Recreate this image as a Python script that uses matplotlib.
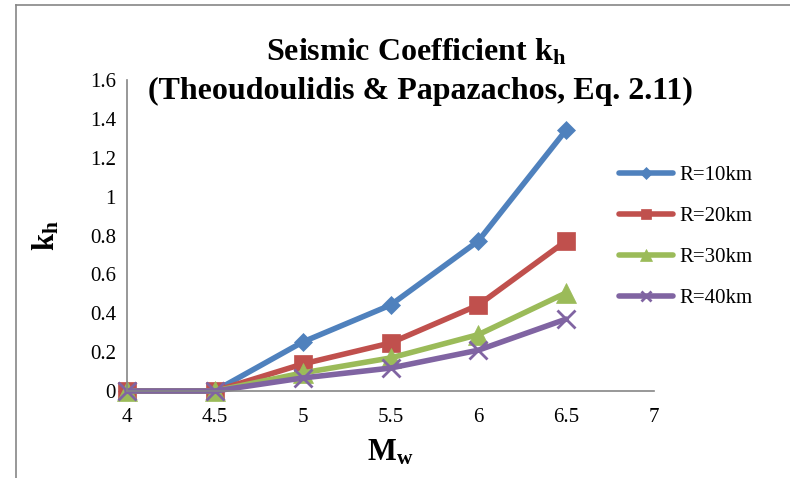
import matplotlib.pyplot as plt
from matplotlib.lines import Line2D

plt.rcParams['font.family'] = ['Liberation Serif', 'DejaVu Serif']
plt.rcParams['mathtext.fontset'] = 'custom'
plt.rcParams['mathtext.rm'] = 'Liberation Serif:bold'
plt.rcParams['mathtext.it'] = 'Liberation Serif:bold'
plt.rcParams['mathtext.bf'] = 'Liberation Serif:bold'

# magnitude Mw
mw = [4, 4.5, 5, 5.5, 6, 6.5]

# kh for each distance
kh_10 = [0, 0, 0.252, 0.442, 0.772, 1.343]
kh_20 = [0, 0, 0.139, 0.247, 0.442, 0.772]
kh_30 = [0, 0, 0.093, 0.170, 0.290, 0.505]
kh_40 = [0, 0, 0.067, 0.118, 0.210, 0.370]

labels = ['R=10km', 'R=20km', 'R=30km', 'R=40km']
colors = ['#4F81BD', '#C0504D', '#9BBB59', '#8064A2']
markers = ['D', 's', '^', 'x']
msizes = [9.5, 13, 14, 13]

xticks = [4, 4.5, 5, 5.5, 6, 6.5, 7]
xtick_labels = ['4', '4.5', '5', '5.5', '6', '6.5', '7']
yticks = [0, 0.2, 0.4, 0.6, 0.8, 1, 1.2, 1.4, 1.6]
ytick_labels = ['0', '0.2', '0.4', '0.6', '0.8', '1', '1.2', '1.4', '1.6']

fig = plt.figure(figsize=(7.9, 4.78), dpi=100)
ax = fig.add_axes([127/790, 1 - 391/478, (654 - 127)/790, (391 - 80)/478])

series = [kh_10, kh_20, kh_30, kh_40]
for vals, lab, c, m, ms in zip(series, labels, colors, markers, msizes):
    ax.plot(mw, vals, color=c, lw=4, marker=m, markersize=ms,
            markeredgewidth=2 if m == 'x' else 0.5, markeredgecolor=c,
            label=lab, clip_on=False, solid_capstyle='round')

ax.set_xlim(4, 7)
ax.set_ylim(0, 1.6)
ax.set_xticks(xticks)
ax.set_xticklabels(xtick_labels)
ax.set_yticks(yticks)
ax.set_yticklabels(ytick_labels)
ax.tick_params(length=0, labelsize=15, colors='black')
ax.tick_params(axis='x', pad=12)
ax.tick_params(axis='y', pad=8)
for s in ['top', 'right']:
    ax.spines[s].set_visible(False)
for s in ['left', 'bottom']:
    ax.spines[s].set_color('#868686')
    ax.spines[s].set_linewidth(1.2)

ax.set_xlabel('M$_\\mathrm{w}$', fontsize=22, fontweight='bold', labelpad=8)
ax.set_ylabel('k$_\\mathrm{h}$', fontsize=22, fontweight='bold', labelpad=20)

fig.text(416/790, 1 - 52/478, 'Seismic Coefficient k$_\\mathrm{h}$',
         ha='center', va='center', fontsize=23, fontweight='bold')
fig.text(420/790, 1 - 91/478, '(Theoudoulidis & Papazachos, Eq. 2.11)',
         ha='center', va='center', fontsize=23, fontweight='bold')

leg = ax.legend(loc='upper left', bbox_to_anchor=(600/790, 1 - 147/478),
                bbox_transform=fig.transFigure, frameon=False, fontsize=15,
                handlelength=2.6, handletextpad=0.3, labelspacing=1.02,
                markerscale=0.6)

# chart border
fig.add_artist(Line2D([16/790, 16/790], [0, 1 - 5/478], color='#868686', lw=1.2,
                      transform=fig.transFigure))
fig.add_artist(Line2D([16/790, 1], [1 - 5/478, 1 - 5/478], color='#868686', lw=1.2,
                      transform=fig.transFigure))

fig.savefig('out.png', dpi=100)
